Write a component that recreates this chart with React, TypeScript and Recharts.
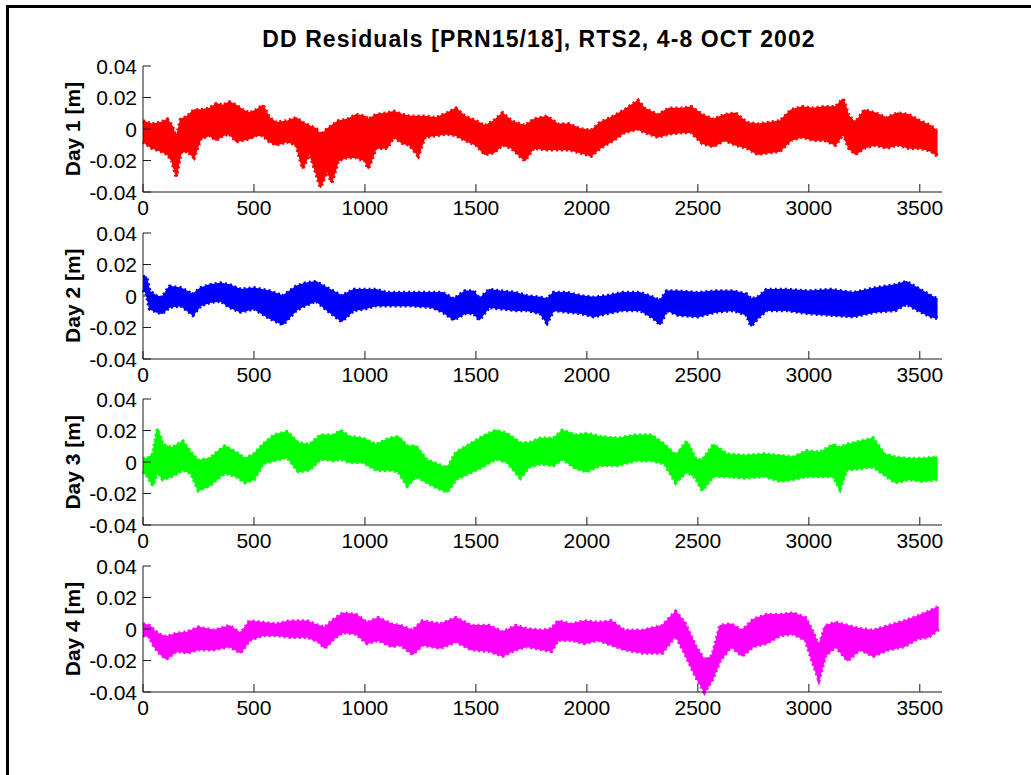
import { ComposedChart, Area, XAxis, YAxis } from 'recharts';

const ticksX = [0, 500, 1000, 1500, 2000, 2500, 3000, 3500];
const ticksY = [-0.04, -0.02, 0, 0.02, 0.04];

const dayLabels = ['Day 1 [m]', 'Day 2 [m]', 'Day 3 [m]', 'Day 4 [m]'];
const dayColors = ['#ff0000', '#0000ff', '#00ff00', '#ff00ff'];

// band of the residual cloud: lowest and highest value around each epoch [s]
const day1Sec = [0, 40, 80, 110, 130, 150, 170, 200, 230, 260, 300, 330, 360, 390, 420, 450, 480, 510, 540, 570, 600, 650, 690, 720, 750, 780, 800, 830, 850, 880, 920, 960, 1000, 1015, 1050, 1100, 1130, 1170, 1200, 1240, 1270, 1320, 1370, 1410, 1450, 1500, 1540, 1580, 1620, 1660, 1720, 1760, 1820, 1870, 1920, 1970, 2020, 2060, 2120, 2170, 2230, 2260, 2320, 2370, 2430, 2470, 2520, 2570, 2620, 2670, 2720, 2770, 2820, 2870, 2920, 2970, 3020, 3070, 3120, 3155, 3180, 3210, 3250, 3300, 3350, 3400, 3450, 3500, 3550, 3580];
const day1Low = [-0.008, -0.012, -0.014, -0.016, -0.02, -0.03, -0.015, -0.014, -0.018, -0.006, -0.004, -0.007, -0.004, -0.003, -0.008, -0.007, -0.006, -0.004, -0.004, -0.008, -0.01, -0.008, -0.01, -0.025, -0.015, -0.028, -0.037, -0.026, -0.034, -0.02, -0.018, -0.018, -0.02, -0.025, -0.012, -0.012, -0.005, -0.009, -0.01, -0.017, -0.005, -0.004, -0.003, -0.004, -0.007, -0.01, -0.016, -0.015, -0.01, -0.012, -0.02, -0.012, -0.013, -0.013, -0.013, -0.015, -0.017, -0.012, -0.007, -0.002, 0, -0.002, -0.005, -0.003, -0.002, -0.002, -0.009, -0.011, -0.007, -0.01, -0.012, -0.016, -0.015, -0.014, -0.007, -0.005, -0.007, -0.007, -0.01, -0.003, -0.012, -0.016, -0.012, -0.01, -0.012, -0.01, -0.012, -0.012, -0.014, -0.017];
const day1High = [0.005, 0.003, 0.004, 0.006, 0.002, -0.006, 0.006, 0.008, 0.012, 0.012, 0.013, 0.016, 0.015, 0.017, 0.015, 0.012, 0.01, 0.012, 0.015, 0.007, 0.004, 0.005, 0.007, 0.004, 0.002, 0, -0.004, 0, 0.002, 0.005, 0.006, 0.009, 0.008, 0.006, 0.009, 0.01, 0.011, 0.009, 0.008, 0.008, 0.008, 0.007, 0.01, 0.013, 0.008, 0.005, 0.002, 0.005, 0.01, 0.005, 0.002, 0.006, 0.008, 0.003, 0.003, 0, -0.001, 0.004, 0.008, 0.012, 0.018, 0.013, 0.009, 0.013, 0.013, 0.014, 0.009, 0.006, 0.009, 0.01, 0.004, 0.003, 0.004, 0.005, 0.012, 0.014, 0.013, 0.014, 0.014, 0.019, 0.008, 0.004, 0.012, 0.01, 0.007, 0.01, 0.009, 0.005, 0.002, -0.002];

const day2Sec = [0, 15, 30, 60, 85, 120, 170, 225, 260, 300, 350, 390, 440, 500, 570, 630, 690, 730, 780, 830, 895, 950, 1000, 1050, 1100, 1200, 1300, 1350, 1400, 1450, 1490, 1515, 1560, 1610, 1680, 1730, 1790, 1820, 1850, 1910, 1975, 2030, 2090, 2160, 2240, 2300, 2330, 2360, 2410, 2500, 2580, 2660, 2720, 2740, 2770, 2810, 2900, 3000, 3100, 3200, 3300, 3390, 3440, 3490, 3550, 3580];
const day2Low = [0.004, 0.002, -0.008, -0.01, -0.011, -0.007, -0.006, -0.012, -0.006, -0.004, -0.003, -0.007, -0.01, -0.008, -0.014, -0.018, -0.009, -0.006, -0.003, -0.009, -0.016, -0.009, -0.008, -0.006, -0.006, -0.006, -0.007, -0.01, -0.015, -0.011, -0.011, -0.015, -0.007, -0.008, -0.009, -0.009, -0.011, -0.017, -0.009, -0.01, -0.011, -0.013, -0.011, -0.009, -0.009, -0.014, -0.018, -0.009, -0.012, -0.013, -0.01, -0.009, -0.012, -0.019, -0.014, -0.009, -0.009, -0.011, -0.012, -0.013, -0.01, -0.009, -0.005, -0.009, -0.013, -0.014];
const day2High = [0.012, 0.012, 0.003, 0, -0.001, 0.006, 0.005, 0.001, 0.005, 0.007, 0.008, 0.007, 0.004, 0.005, 0.003, 0, 0.006, 0.008, 0.009, 0.005, 0, 0.004, 0.004, 0.004, 0.002, 0.002, 0.002, 0.002, -0.002, 0.003, 0.003, -0.002, 0.004, 0.003, 0.002, 0, -0.001, -0.002, 0.002, 0.002, 0, -0.001, 0, 0.002, 0.002, -0.001, -0.003, 0.003, 0.003, 0.002, 0.003, 0.003, 0.001, -0.002, -0.001, 0.004, 0.004, 0.003, 0.004, 0.002, 0.005, 0.007, 0.009, 0.005, 0, -0.002];

const day3Sec = [0, 20, 45, 65, 90, 130, 180, 215, 250, 300, 340, 370, 420, 460, 500, 540, 590, 650, 700, 750, 800, 860, 890, 930, 990, 1050, 1110, 1150, 1190, 1230, 1280, 1320, 1370, 1410, 1470, 1530, 1590, 1640, 1700, 1740, 1790, 1850, 1890, 1950, 2000, 2060, 2140, 2220, 2290, 2350, 2400, 2450, 2490, 2520, 2570, 2630, 2710, 2800, 2870, 2930, 2990, 3050, 3110, 3140, 3170, 3230, 3290, 3340, 3390, 3450, 3510, 3580];
const day3Low = [-0.006, -0.009, -0.015, -0.006, -0.011, -0.009, -0.005, -0.007, -0.018, -0.015, -0.01, -0.007, -0.009, -0.013, -0.011, -0.001, 0.001, 0.003, -0.006, -0.005, 0.002, 0.001, 0.002, 0, 0, -0.005, -0.005, -0.006, -0.015, -0.009, -0.013, -0.016, -0.019, -0.011, -0.007, -0.003, 0.002, 0, -0.01, -0.003, -0.001, -0.002, 0.002, -0.004, -0.006, -0.002, -0.002, 0.001, 0.001, -0.001, -0.013, -0.006, -0.01, -0.018, -0.009, -0.009, -0.01, -0.009, -0.012, -0.011, -0.009, -0.009, -0.009, -0.017, -0.005, -0.004, -0.003, -0.008, -0.013, -0.011, -0.012, -0.011];
const day3High = [0.002, 0.002, 0.005, 0.021, 0.011, 0.009, 0.013, 0.006, 0.001, 0.002, 0.007, 0.01, 0.006, 0.002, 0.005, 0.011, 0.017, 0.019, 0.012, 0.011, 0.017, 0.017, 0.02, 0.016, 0.015, 0.011, 0.015, 0.016, 0.01, 0.01, 0.001, -0.001, -0.004, 0.006, 0.011, 0.016, 0.02, 0.018, 0.012, 0.012, 0.015, 0.015, 0.02, 0.017, 0.018, 0.016, 0.015, 0.017, 0.017, 0.011, 0.004, 0.013, 0.002, 0.001, 0.011, 0.005, 0.004, 0.005, 0.004, 0.003, 0.007, 0.006, 0.011, 0.009, 0.011, 0.013, 0.015, 0.005, 0.003, 0.002, 0.002, 0.003];

const day4Sec = [0, 30, 50, 80, 105, 150, 200, 250, 320, 390, 440, 480, 540, 600, 660, 740, 790, 820, 860, 900, 960, 1010, 1060, 1120, 1160, 1215, 1260, 1340, 1410, 1480, 1560, 1620, 1680, 1730, 1800, 1840, 1870, 1930, 1990, 2050, 2110, 2170, 2250, 2340, 2400, 2440, 2490, 2530, 2565, 2600, 2650, 2700, 2750, 2810, 2870, 2930, 2985, 3015, 3045, 3075, 3120, 3175, 3230, 3290, 3360, 3430, 3490, 3540, 3585];
const day4Low = [-0.004, -0.005, -0.011, -0.016, -0.019, -0.014, -0.015, -0.013, -0.013, -0.011, -0.015, -0.007, -0.004, -0.004, -0.005, -0.005, -0.008, -0.012, -0.006, -0.002, -0.003, -0.009, -0.007, -0.011, -0.01, -0.016, -0.01, -0.012, -0.008, -0.013, -0.014, -0.017, -0.013, -0.011, -0.013, -0.014, -0.007, -0.007, -0.009, -0.007, -0.01, -0.013, -0.015, -0.015, -0.004, -0.015, -0.03, -0.04, -0.032, -0.02, -0.011, -0.017, -0.011, -0.009, -0.004, -0.003, -0.007, -0.02, -0.032, -0.017, -0.011, -0.02, -0.013, -0.017, -0.013, -0.011, -0.006, -0.005, 0];
const day4High = [0.003, 0.002, -0.001, -0.004, -0.005, -0.003, -0.002, 0.001, -0.001, 0.002, -0.003, 0.005, 0.004, 0.003, 0.005, 0.005, 0.002, 0.001, 0.006, 0.01, 0.009, 0.004, 0.007, 0.003, 0.002, -0.001, 0.005, 0.003, 0.007, 0.002, 0.002, -0.002, 0.002, 0, -0.001, 0, 0.005, 0.003, 0.005, 0.004, 0.005, -0.001, -0.001, 0.002, 0.011, 0.004, -0.011, -0.02, -0.017, 0.002, 0.003, -0.001, 0.006, 0.009, 0.009, 0.01, 0.007, -0.001, -0.011, 0.002, 0.004, 0.002, 0, -0.001, 0.002, 0.005, 0.008, 0.011, 0.014];

const days = [
  { sec: day1Sec, low: day1Low, high: day1High },
  { sec: day2Sec, low: day2Low, high: day2High },
  { sec: day3Sec, low: day3Low, high: day3High },
  { sec: day4Sec, low: day4Low, high: day4High },
];

const font = '"Liberation Sans", Arial, sans-serif';
const axisColor = '#1a1a1a';
const plotTops = [66, 232.7, 399.3, 566];
const plotHeight = 126;
const marginTop = 10;

const BottomTick = (props: any) => {
  const { x, y, payload } = props;
  return (
    <g>
      <line x1={x} x2={x} y1={y} y2={y - 8} stroke={axisColor} />
      <text x={x} y={y + 23} textAnchor='middle' fontSize={21} fontFamily={font} fill='#000'>
        {payload.value}
      </text>
    </g>
  );
};

const TopTick = (props: any) => {
  const { x, y } = props;
  return <line x1={x} x2={x} y1={y} y2={y + 8} stroke={axisColor} />;
};

const LeftTick = (props: any) => {
  const { x, y, payload } = props;
  return (
    <g>
      <line x1={x} x2={x + 8} y1={y} y2={y} stroke={axisColor} />
      <text x={x - 6} y={y + 7.5} textAnchor='end' fontSize={21} fontFamily={font} fill='#000'>
        {payload.value}
      </text>
    </g>
  );
};

const RightTick = (props: any) => {
  const { x, y } = props;
  return <line x1={x} x2={x - 8} y1={y} y2={y} stroke={axisColor} />;
};

function DayPlot({ index }: { index: number }) {
  const d = days[index];
  const rows = d.sec.map((s, i) => ({ sec: s, low: d.low[i], high: d.high[i] }));
  const color = dayColors[index];

  return (
    <div style={{ position: 'absolute', left: 0, top: plotTops[index] - marginTop }}>
      <ComposedChart
        width={1031}
        height={marginTop + plotHeight + 40}
        data={rows}
        margin={{ top: marginTop, right: 89, bottom: 0, left: 0 }}
      >
        <XAxis
          xAxisId='b'
          dataKey='sec'
          type='number'
          domain={[0, 3600]}
          ticks={ticksX}
          interval={0}
          height={40}
          tickSize={0}
          tickMargin={0}
          tickLine={false}
          tick={<BottomTick />}
          axisLine={{ stroke: axisColor }}
        />
        <XAxis
          xAxisId='t'
          orientation='top'
          dataKey='sec'
          type='number'
          domain={[0, 3600]}
          ticks={ticksX}
          interval={0}
          height={0}
          tickSize={0}
          tickMargin={0}
          tickLine={false}
          tick={<TopTick />}
          axisLine={{ stroke: axisColor }}
        />
        <YAxis
          yAxisId='l'
          type='number'
          domain={[-0.04, 0.04]}
          ticks={ticksY}
          interval={0}
          width={143}
          tickSize={0}
          tickMargin={0}
          tickLine={false}
          tick={<LeftTick />}
          axisLine={{ stroke: axisColor }}
        />
        <YAxis
          yAxisId='r'
          orientation='right'
          type='number'
          domain={[-0.04, 0.04]}
          ticks={ticksY}
          interval={0}
          width={0}
          tickSize={0}
          tickMargin={0}
          tickLine={false}
          tick={<RightTick />}
          axisLine={{ stroke: axisColor }}
        />
        {/* marker fringe, then the solid cloud */}
        <Area
          xAxisId='b'
          yAxisId='l'
          type='linear'
          dataKey={(r: any) => [r.low, r.high]}
          stroke={color}
          strokeWidth={4}
          strokeDasharray='2 3'
          fill='none'
          dot={false}
          activeDot={false}
          isAnimationActive={false}
        />
        <Area
          xAxisId='b'
          yAxisId='l'
          type='linear'
          dataKey={(r: any) => [r.low, r.high]}
          stroke={color}
          strokeWidth={1.5}
          strokeLinejoin='round'
          fill={color}
          fillOpacity={1}
          dot={false}
          activeDot={false}
          isAnimationActive={false}
        />
      </ComposedChart>
    </div>
  );
}

export default function App() {
  return (
    <div
      style={{
        position: 'absolute',
        left: 0,
        top: 0,
        width: 1031,
        height: 775,
        background: '#fff',
        overflow: 'hidden',
        fontFamily: font,
      }}
    >
      <div
        style={{
          position: 'absolute',
          left: 6,
          top: 5,
          width: 1040,
          height: 790,
          borderTop: '3px solid #000',
          borderLeft: '3px solid #000',
        }}
      />
      {dayLabels.map((_, i) => (
        <DayPlot key={i} index={i} />
      ))}
      <svg
        width={1031}
        height={775}
        style={{ position: 'absolute', left: 0, top: 0, pointerEvents: 'none' }}
      >
        <text
          x={539}
          y={47}
          textAnchor='middle'
          fontSize={23}
          fontWeight='bold'
          fontFamily={font}
          letterSpacing={1.1}
          fill='#000'
        >
          DD Residuals [PRN15/18], RTS2, 4-8 OCT 2002
        </text>
        {dayLabels.map((label, i) => (
          <text
            key={label}
            transform={`translate(80,${plotTops[i] + plotHeight / 2}) rotate(-90)`}
            textAnchor='middle'
            fontSize={21}
            fontWeight='bold'
            fontFamily={font}
            fill='#000'
          >
            {label}
          </text>
        ))}
      </svg>
    </div>
  );
}
